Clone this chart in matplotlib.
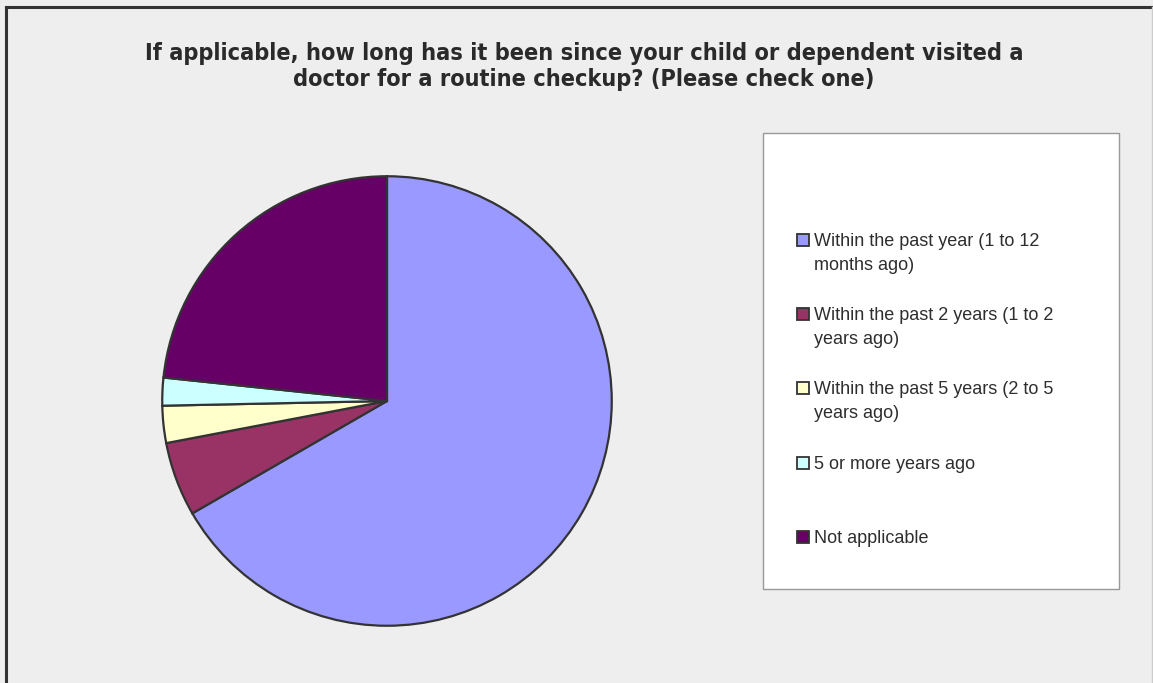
import matplotlib
matplotlib.use("Agg")
import matplotlib.pyplot as plt
from matplotlib.patches import Rectangle
from matplotlib.lines import Line2D

# survey answers (respondent counts)
labels = ["Within the past year (1 to 12\nmonths ago)",
          "Within the past 2 years (1 to 2\nyears ago)",
          "Within the past 5 years (2 to 5\nyears ago)",
          "5 or more years ago",
          "Not applicable"]
counts = [100, 8, 4, 3, 35]
colors = ["#9999ff", "#993366", "#ffffcc", "#ccffff", "#660066"]

title = ("If applicable, how long has it been since your child or dependent visited a\n"
         "doctor for a routine checkup? (Please check one)")

W, H = 1153, 683
fig = plt.figure(figsize=(W / 100, H / 100), dpi=100)
fig.patch.set_facecolor("#eeeeee")

def fx(px):
    return px / W

def fy(py):
    return 1 - py / H

# chart border (left/top dark, right faint)
fig.add_artist(Line2D([fx(6), fx(6)], [fy(7), 0], color="#333333", lw=2.2))
fig.add_artist(Line2D([fx(6), 1], [fy(7), fy(7)], color="#333333", lw=2.2))
fig.add_artist(Line2D([fx(1151.5), fx(1151.5)], [fy(7), 0], color="#cccccc", lw=1))

fig.text(fx(584), fy(66.5), title, ha="center", va="center", fontsize=16.8,
         family="DejaVu Sans", stretch="condensed", weight="bold",
         color="#2a2a2a", linespacing=1.2)

# pie
cx, cy, r = 387, 401, 227
ax = fig.add_axes([fx(cx - r), fy(cy + r), 2 * r / W, 2 * r / H])
ax.pie(counts, colors=colors, startangle=90, counterclock=False, radius=1,
       wedgeprops=dict(edgecolor="#333333", linewidth=1.6))
ax.set_xlim(-1.01, 1.01)
ax.set_ylim(-1.01, 1.01)
ax.axis("off")

# legend box
lx0, ly0, lx1, ly1 = 763, 133, 1119, 589
fig.add_artist(Rectangle((fx(lx0), fy(ly1)), fx(lx1) - fx(lx0), fy(ly0) - fy(ly1),
                         facecolor="white", edgecolor="#999999", lw=1))
for i, (lab, col) in enumerate(zip(labels, colors)):
    y = 240 + i * 74.2
    fig.add_artist(Rectangle((fx(797), fy(y + 6)), fx(12), 12 / H,
                             facecolor=col, edgecolor="#333333", lw=1.3))
    fig.text(fx(814), fy(y - 7), lab, ha="left", va="top", fontsize=13,
             family="Liberation Sans", color="#2e2e2e", linespacing=1.52)

fig.savefig("out.png", dpi=100, facecolor=fig.get_facecolor())
